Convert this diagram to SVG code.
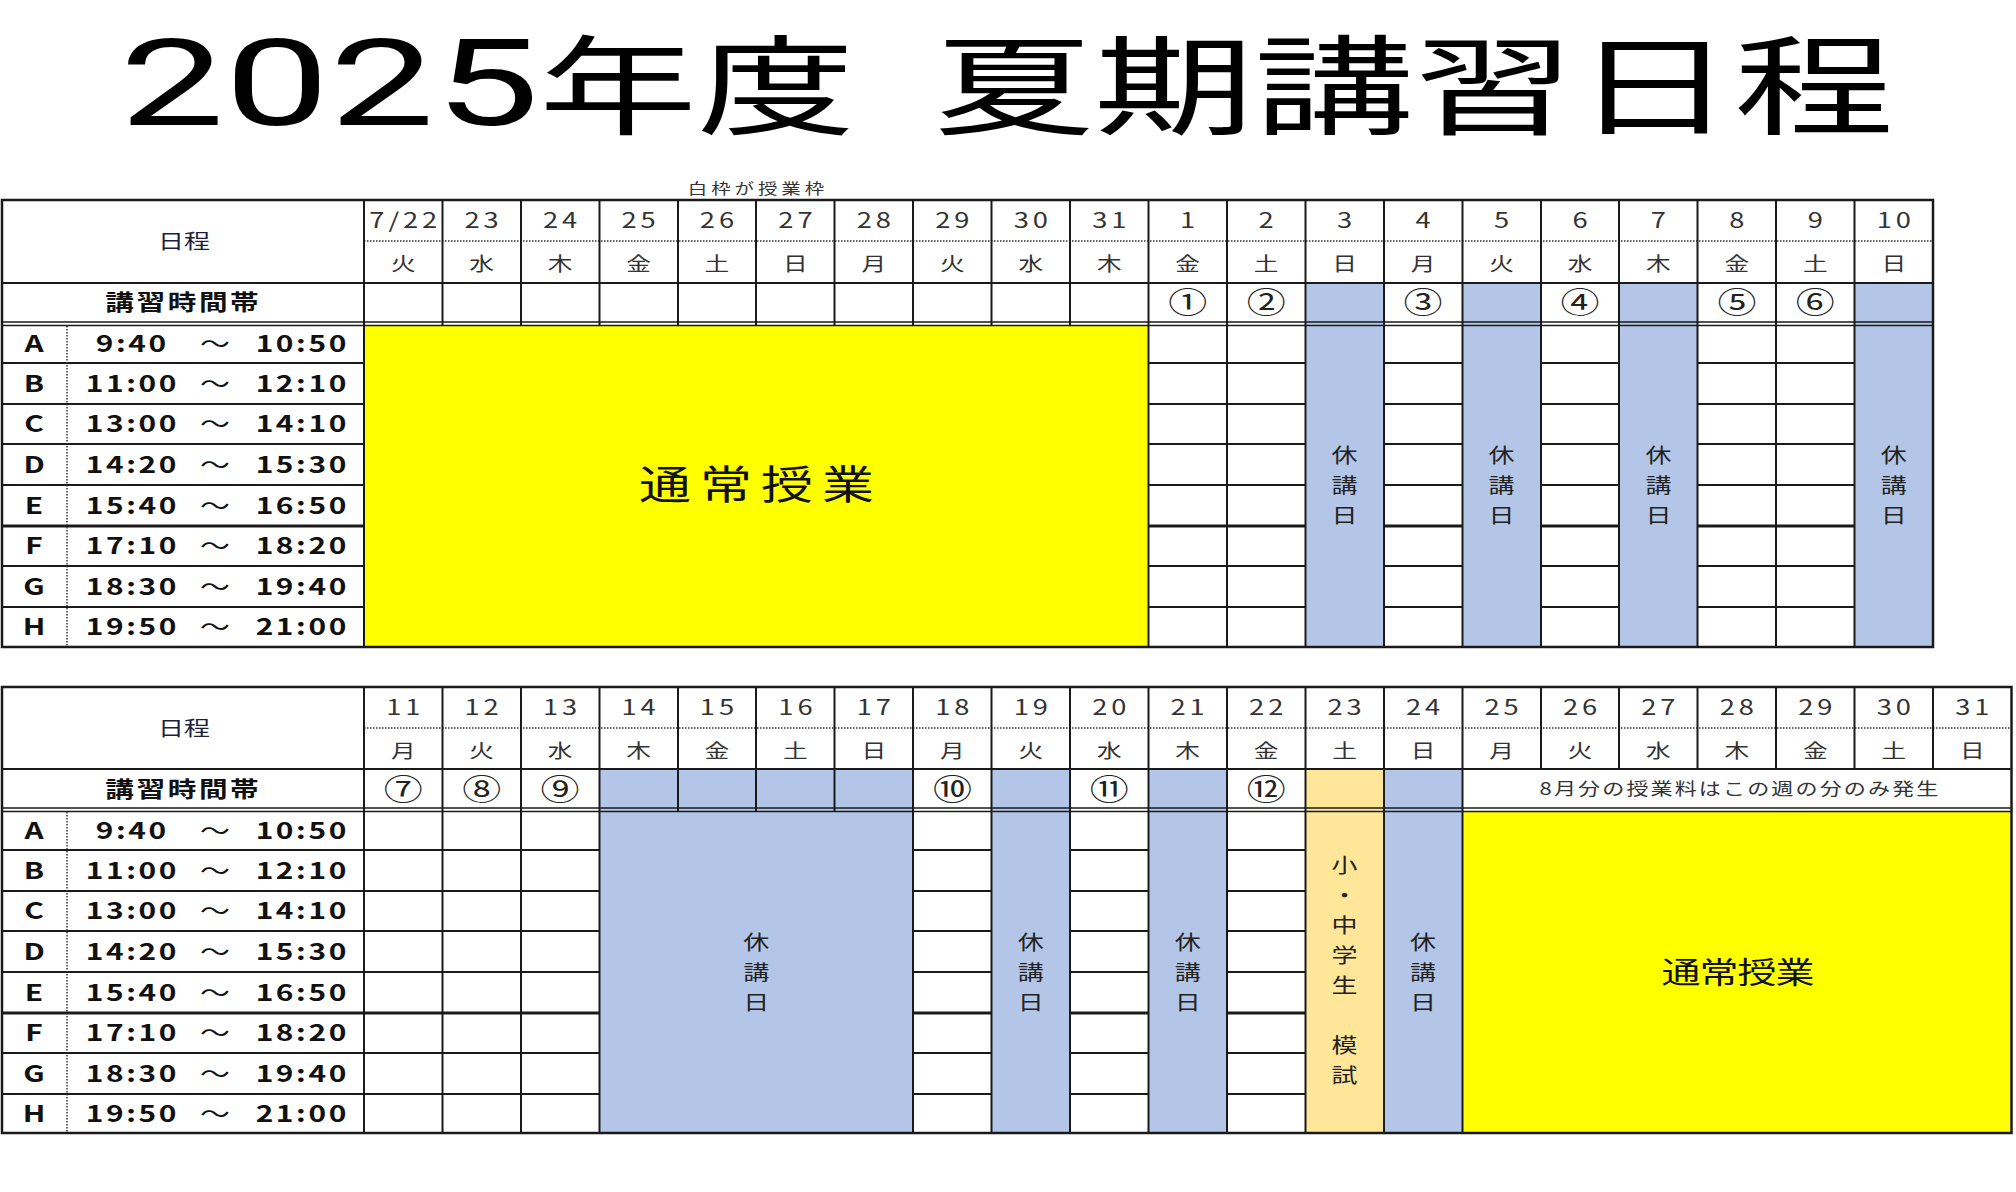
<svg xmlns="http://www.w3.org/2000/svg" width="2016" height="1192" viewBox="0 0 2016 1192">
<style>
text{font-family:"Noto Sans CJK JP","Noto Sans",sans-serif;fill:#222;text-anchor:middle}
.ln{stroke:#1a1a1a;stroke-width:2;fill:none}
.dot{stroke:#333;stroke-width:1.5;stroke-dasharray:1.5 1.5;fill:none}
.dbl{stroke:#1a1a1a;stroke-width:1.4;fill:none}
.thick{stroke:#1a1a1a;stroke-width:3;fill:none}
.frame{stroke:#1a1a1a;stroke-width:2.5;fill:none}
.blue{fill:#B4C6E7}
.yel{fill:#FFFF00}
.org{fill:#FFE699}
.ttl{font-size:108px;font-weight:normal;fill:#000;text-anchor:start}
.ttn{font-family:Roboto,"Liberation Sans",sans-serif;font-size:121px;font-weight:normal;fill:#000;text-anchor:start}
.date{font-size:21px;letter-spacing:3px;fill:#333}
.wd{font-size:19px;fill:#333}
.circ{font-size:30px;fill:#222}
.hd{font-size:20px;fill:#1e1e3c}
.hdb{font-size:22px;font-weight:bold;letter-spacing:2px;fill:#111}
.tm{font-size:23px;font-weight:bold;fill:#111}
.ls{letter-spacing:2px}
.kyu{font-size:20px;fill:#222}
.big{font-size:40px;fill:#111}
.mid{font-size:30px;fill:#111}
.sm{font-size:17px;letter-spacing:1.6px;fill:#333}
</style>
<rect x="0" y="0" width="2016" height="1192" fill="#fff"/>

<g id="title">
<text class="ttn" x="119.5" y="125" textLength="420" lengthAdjust="spacingAndGlyphs">2025</text>
<text class="ttl" x="539" y="126" textLength="316" lengthAdjust="spacingAndGlyphs">年度</text>
<text class="ttl" x="934" y="126" textLength="960" lengthAdjust="spacingAndGlyphs">夏期講習日程</text>
</g>

<g id="note">
<text transform="scale(1.3,1)" x="583" y="194" style="font-size:15px;letter-spacing:3px;fill:#333">白枠が授業枠</text>
</g>

<g id="table1">
<g id="t1-rowlines">
<path class="ln" d="M2 363H1933M2 404H1933M2 444H1933M2 485H1933M2 566H1933M2 607H1933"/>
<path class="thick" d="M2 526H1933"/>
</g>
<g id="t1-fills">
<rect class="yel" x="364" y="325" width="784.5" height="322"/>
<rect class="blue" x="1305.5" y="283" width="78.5" height="364"/>
<rect class="blue" x="1462.5" y="283" width="78.5" height="364"/>
<rect class="blue" x="1619" y="283" width="78.5" height="364"/>
<rect class="blue" x="1854.5" y="283" width="78.5" height="364"/>
</g>
<g id="t1-grid">
<path class="dot" d="M364 241H1933"/>
<path class="ln" d="M2 283H1933"/>
<path class="dbl" d="M2 322H1933M2 325.5H1933"/>
<path class="dot" d="M67 326V647"/>
<path class="ln" d="M442.5 200V325.5M521 200V325.5M599.5 200V325.5M678 200V325.5M756 200V325.5M834.5 200V325.5M913 200V325.5M991.5 200V325.5M1070 200V325.5"/>
<path class="ln" d="M364 200V647M1148.5 200V647M1227 200V647M1305.5 200V647M1384 200V647M1462.5 200V647M1541 200V647M1619 200V647M1697.5 200V647M1776 200V647M1854.5 200V647"/>
<rect class="frame" x="2" y="200" width="1931" height="447"/>
</g>
<g id="t1-text" transform="scale(1.3,1)">
<text class="hd" x="141.5" y="249">日程</text>
<text class="hdb" x="141" y="310">講習時間帯</text>
<text class="date" y="228"><tspan x="311.7">7/22</tspan><tspan x="372">23</tspan><tspan x="432.3">24</tspan><tspan x="492.7">25</tspan><tspan x="553">26</tspan><tspan x="613.4">27</tspan><tspan x="673.7">28</tspan><tspan x="734.1">29</tspan><tspan x="794.4">30</tspan><tspan x="854.8">31</tspan><tspan x="915.1">1</tspan><tspan x="975.5">2</tspan><tspan x="1035.8">3</tspan><tspan x="1096.2">4</tspan><tspan x="1156.5">5</tspan><tspan x="1216.9">6</tspan><tspan x="1277.2">7</tspan><tspan x="1337.6">8</tspan><tspan x="1397.9">9</tspan><tspan x="1458.3">10</tspan></text>
<text class="wd" x="310.2 370.5 430.8 491.2 551.5 611.9 672.2 732.6 792.9 853.3 913.6 974 1034.3 1094.7 1155 1215.4 1275.7 1336.1 1396.4 1456.8" y="271">火水木金土日月火水木金土日月火水木金土日</text>
<text class="circ" x="913.6 974 1094.7 1215.4 1336.1 1396.4" y="313">①②③④⑤⑥</text>
<text class="tm" x="26.2 26.2 26.2 26.2 26.2 26.2 26.2 26.2" y="352 392 432.5 473 514 554.5 595 635.5">ABCDEFGH</text>
<text class="tm ls"><tspan x="101.8" y="352">9:40</tspan><tspan x="101.8" y="392">11:00</tspan><tspan x="101.8" y="432.5">13:00</tspan><tspan x="101.8" y="473">14:20</tspan><tspan x="101.8" y="514">15:40</tspan><tspan x="101.8" y="554.5">17:10</tspan><tspan x="101.8" y="595">18:30</tspan><tspan x="101.8" y="635.5">19:50</tspan></text>
<text class="tm" style="font-weight:normal" x="165.4 165.4 165.4 165.4 165.4 165.4 165.4 165.4" y="352 392 432.5 473 514 554.5 595 635.5">～～～～～～～～</text>
<text class="tm ls"><tspan x="232.5" y="352">10:50</tspan><tspan x="232.5" y="392">12:10</tspan><tspan x="232.5" y="432.5">14:10</tspan><tspan x="232.5" y="473">15:30</tspan><tspan x="232.5" y="514">16:50</tspan><tspan x="232.5" y="554.5">18:20</tspan><tspan x="232.5" y="595">19:40</tspan><tspan x="232.5" y="635.5">21:00</tspan></text>
<text class="big" x="511.5 558.5 605.4 652.3" y="499">通常授業</text>
<text class="kyu" x="1034.3 1034.3 1034.3" y="463 493 523">休講日</text>
<text class="kyu" x="1155 1155 1155" y="463 493 523">休講日</text>
<text class="kyu" x="1275.7 1275.7 1275.7" y="463 493 523">休講日</text>
<text class="kyu" x="1456.8 1456.8 1456.8" y="463 493 523">休講日</text>
</g>
</g>

<g id="table2">
<g id="t2-rowlines">
<path class="ln" d="M2 850H2011.5M2 891H2011.5M2 931H2011.5M2 972H2011.5M2 1053H2011.5M2 1094H2011.5"/>
<path class="thick" d="M2 1013H2011.5"/>
</g>
<g id="t2-fills">
<rect class="blue" x="599.5" y="769" width="313.5" height="364"/>
<rect class="blue" x="991.5" y="769" width="78.5" height="364"/>
<rect class="blue" x="1148.5" y="769" width="78.5" height="364"/>
<rect class="org" x="1305.5" y="769" width="78.5" height="364"/>
<rect class="blue" x="1384" y="769" width="78.5" height="364"/>
<rect class="yel" x="1462.5" y="811.5" width="549" height="321.5"/>
</g>
<g id="t2-grid">
<path class="dot" d="M364 728H2011.5"/>
<path class="ln" d="M2 769H2011.5"/>
<path class="dbl" d="M2 808H2011.5M2 811.5H2011.5"/>
<path class="dot" d="M67 812V1133"/>
<path class="ln" d="M364 687V1133M442.5 687V1133M521 687V1133M599.5 687V1133M913 687V1133M991.5 687V1133M1070 687V1133M1148.5 687V1133M1227 687V1133M1305.5 687V1133M1384 687V1133M1462.5 687V1133"/>
<path class="ln" d="M678 687V811.5M756 687V811.5M834.5 687V811.5"/>
<path class="ln" d="M1541 687V769M1619 687V769M1697.5 687V769M1776 687V769M1854.5 687V769M1933 687V769"/>
<rect class="frame" x="2" y="687" width="2009.5" height="446"/>
</g>
<g id="t2-text" transform="scale(1.3,1)">
<text class="hd" x="141.5" y="736">日程</text>
<text class="hdb" x="141" y="797">講習時間帯</text>
<text class="date" y="715"><tspan x="311.7">11</tspan><tspan x="372">12</tspan><tspan x="432.3">13</tspan><tspan x="492.7">14</tspan><tspan x="553">15</tspan><tspan x="613.4">16</tspan><tspan x="673.7">17</tspan><tspan x="734.1">18</tspan><tspan x="794.4">19</tspan><tspan x="854.8">20</tspan><tspan x="915.1">21</tspan><tspan x="975.5">22</tspan><tspan x="1035.8">23</tspan><tspan x="1096.2">24</tspan><tspan x="1156.5">25</tspan><tspan x="1216.9">26</tspan><tspan x="1277.2">27</tspan><tspan x="1337.6">28</tspan><tspan x="1397.9">29</tspan><tspan x="1458.3">30</tspan><tspan x="1518.6">31</tspan></text>
<text class="wd" x="310.2 370.5 430.8 491.2 551.5 611.9 672.2 732.6 792.9 853.3 913.6 974 1034.3 1094.7 1155 1215.4 1275.7 1336.1 1396.4 1456.8 1517.1" y="758">月火水木金土日月火水木金土日月火水木金土日</text>
<text class="circ" x="310.2 370.5 430.8 732.6 853.3 974" y="800">⑦⑧⑨⑩⑪⑫</text>
<text class="sm" x="1338.5" y="795">8月分の授業料はこの週の分のみ発生</text>
<text class="tm" x="26.2 26.2 26.2 26.2 26.2 26.2 26.2 26.2" y="839 879 919.5 960 1001 1041.5 1082 1122.5">ABCDEFGH</text>
<text class="tm ls"><tspan x="101.8" y="839">9:40</tspan><tspan x="101.8" y="879">11:00</tspan><tspan x="101.8" y="919.5">13:00</tspan><tspan x="101.8" y="960">14:20</tspan><tspan x="101.8" y="1001">15:40</tspan><tspan x="101.8" y="1041.5">17:10</tspan><tspan x="101.8" y="1082">18:30</tspan><tspan x="101.8" y="1122.5">19:50</tspan></text>
<text class="tm" style="font-weight:normal" x="165.4 165.4 165.4 165.4 165.4 165.4 165.4 165.4" y="839 879 919.5 960 1001 1041.5 1082 1122.5">～～～～～～～～</text>
<text class="tm ls"><tspan x="232.5" y="839">10:50</tspan><tspan x="232.5" y="879">12:10</tspan><tspan x="232.5" y="919.5">14:10</tspan><tspan x="232.5" y="960">15:30</tspan><tspan x="232.5" y="1001">16:50</tspan><tspan x="232.5" y="1041.5">18:20</tspan><tspan x="232.5" y="1082">19:40</tspan><tspan x="232.5" y="1122.5">21:00</tspan></text>
<text class="kyu" x="581.75 581.75 581.75" y="950 980 1010">休講日</text>
<text class="kyu" x="792.9 792.9 792.9" y="950 980 1010">休講日</text>
<text class="kyu" x="913.6 913.6 913.6" y="950 980 1010">休講日</text>
<text class="kyu" x="1094.7 1094.7 1094.7" y="950 980 1010">休講日</text>
<text class="kyu" x="1034.3 1034.3 1034.3 1034.3 1034.3 1034.3 1034.3 1034.3" y="873 903 933 963 993 1023 1053 1083">小・中学生　模試</text>
<text class="mid" x="1293.1 1322.3 1351.5 1380.8" y="983">通常授業</text>
</g>
</g>
</svg>
